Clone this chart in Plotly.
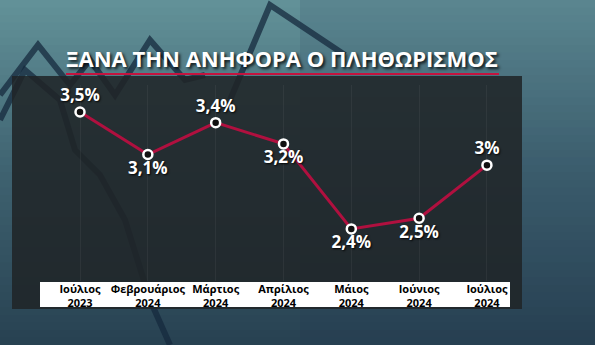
import plotly.graph_objects as go

W, H = 595, 345

months = ["Ιούλιος<br>2023", "Φεβρουάριος<br>2024", "Μάρτιος<br>2024", "Απρίλιος<br>2024",
          "Μάιος<br>2024", "Ιούνιος<br>2024", "Ιούλιος<br>2024"]
inflation = [3.5, 3.1, 3.4, 3.2, 2.4, 2.5, 3.0]
label_side = ["top center", "bottom center", "top center", "bottom center",
              "bottom center", "bottom center", "top center"]
title_text = "ΞΑΝΑ ΤΗΝ ΑΝΗΦΟΡΑ Ο ΠΛΗΘΩΡΙΣΜΟΣ"

labels = [f"{v:g}".replace(".", ",") + "%" for v in inflation]


def px(x):
    return x / W


def py(y):
    return 1 - y / H


def lerp(c1, c2, t):
    return tuple(round(a + (b - a) * t) for a, b in zip(c1, c2))


shapes = []
# background vertical gradient
top_c = (98, 145, 152)
mid_c = (62, 98, 112)
bot_c = (40, 66, 82)
n = 46
for i in range(n):
    t = i / (n - 1)
    c = lerp(top_c, mid_c, t / 0.5) if t < 0.5 else lerp(mid_c, bot_c, (t - 0.5) / 0.5)
    y0 = H * i / n
    y1 = H * (i + 1) / n + 0.6
    shapes.append(dict(type="rect", xref="paper", yref="paper", x0=0, x1=1,
                       y0=py(y1), y1=py(y0), line_width=0,
                       fillcolor=f"rgb{c}", layer="below"))
# slight darkening toward right
shapes.append(dict(type="rect", xref="paper", yref="paper", x0=px(300), x1=1, y0=0, y1=1,
                   line_width=0, fillcolor="rgba(30,50,80,0.12)", layer="below"))


def path(pts):
    return "M " + " L ".join(f"{px(x):.4f},{py(y):.4f}" for x, y in pts)


deco = [
    [(0, 95), (38, 45), (70, 85), (90, 60), (115, 95), (150, 40), (185, 80), (205, 75)],
    [(0, 120), (25, 70), (60, 100), (75, 150), (100, 175), (125, 220), (150, 300), (170, 345)],
    [(230, 100), (270, 5), (330, 45), (345, 55)],
]
for p in deco:
    shapes.append(dict(type="path", xref="paper", yref="paper", path=path(p),
                       line=dict(color="rgba(22,42,62,0.75)", width=6), layer="below"))

# dark panel
shapes.append(dict(type="rect", xref="paper", yref="paper", x0=px(12), x1=px(522),
                   y0=py(309), y1=py(76), line_width=0,
                   fillcolor="rgba(32,36,38,0.86)", layer="below"))
# white label band
shapes.append(dict(type="rect", xref="paper", yref="paper", x0=px(40), x1=px(510),
                   y0=py(307), y1=py(282), line_width=0, fillcolor="white", layer="below"))
# title underline
shapes.append(dict(type="line", xref="paper", yref="paper", x0=px(66), x1=px(499),
                   y0=py(74), y1=py(74), line=dict(color="#c4143f", width=2)))

fig = go.Figure()
fig.add_trace(go.Scatter(
    x=months, y=inflation, mode="lines+markers+text",
    line=dict(color="#b0103f", width=3),
    marker=dict(size=9, color="#111111", line=dict(color="white", width=2.5)),
    text=labels, textposition=label_side,
    textfont=dict(family="Open Sans", size=17, color="white", weight="bold",
                  shadow="1px 1px 2px rgba(0,0,0,0.9)"),
    cliponaxis=False, hoverinfo="skip",
))

fig.add_annotation(text=title_text, xref="paper", yref="paper",
                   x=px(282), y=py(58), xanchor="center", yanchor="middle",
                   showarrow=False,
                   font=dict(family="Open Sans", size=22, color="white", weight="bold",
                             shadow="2px 2px 3px rgba(0,0,0,0.8)"))

fig.update_layout(
    width=W, height=H,
    margin=dict(l=0, r=0, t=0, b=0, autoexpand=False),
    paper_bgcolor="#3e6272", plot_bgcolor="rgba(0,0,0,0)",
    showlegend=False, shapes=shapes,
    xaxis=dict(domain=[px(40), px(510)], range=[-0.59, 6.34], showline=False,
               zeroline=False, showgrid=True, gridcolor="rgba(255,255,255,0.05)",
               ticks="", tickangle=0, automargin=False,
               tickfont=dict(family="Open Sans", size=11, color="black", weight="bold"),
               fixedrange=True),
    yaxis=dict(domain=[py(281), py(85)], range=[1.91, 3.754], visible=False,
               automargin=False, showgrid=False, zeroline=False, fixedrange=True),
)

fig.write_html("out.html")
